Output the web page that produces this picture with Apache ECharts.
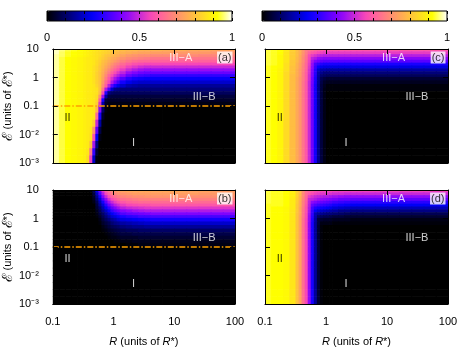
<!DOCTYPE html>
<html>
<head>
<meta charset="utf-8">
<script src="https://cdn.jsdelivr.net/npm/echarts@6/dist/echarts.min.js"></script>
<style>
html, body { margin: 0; padding: 0; background: #fff; }
#main { width: 463px; height: 354px; }
</style>
</head>
<body>
<div id="main"></div>
<script>
// bin edges of the sampled maps, in log10 R and log10 E (E from bottom to top)
var rEdges = [-1.0,-0.9,-0.8,-0.7,-0.6,-0.5,-0.45,-0.4,-0.35,-0.3,-0.25,-0.2,-0.15,-0.1,-0.05,0,0.05,0.1,0.2,0.3,0.4,0.5,0.6,0.8,1.0,1.2,1.4,1.6,1.8,2.0];
var eEdges = [-3,-2.75,-2.5,-2.25,-2,-1.75,-1.5,-1.25,-1,-0.875,-0.75,-0.625,-0.5,-0.375,-0.25,-0.125,0,0.1,0.2,0.3,0.4,0.5,0.6,0.7,0.8,0.9,1.0];

// map values x100, one row per E bin, top row first
var mapA = [
  [98,96,94,93,92,91,90,89,88,87,86,85,84,83,82,81,80,79,78,78,77,77,77,76,76,75,75,74,74],
  [98,95,93,92,91,90,89,88,87,86,85,84,83,82,80,79,78,77,76,75,74,74,73,73,72,72,72,71,71],
  [97,95,93,92,91,90,89,88,87,86,85,83,81,80,78,77,76,74,72,71,70,70,69,69,69,69,68,68,68],
  [97,94,92,91,90,89,88,88,87,86,84,82,80,78,76,75,73,71,69,68,67,66,65,65,65,65,65,65,65],
  [97,94,92,91,90,89,88,88,87,85,83,80,78,76,74,72,70,67,65,63,62,62,61,61,61,61,61,61,61],
  [97,94,92,91,90,89,88,88,87,85,82,79,77,74,71,68,66,63,60,58,57,56,56,56,56,56,56,56,56],
  [97,94,92,91,90,89,88,88,86,84,81,78,75,72,68,65,62,59,55,53,51,50,50,50,50,50,50,50,50],
  [97,94,92,91,90,89,88,88,86,84,81,77,73,69,65,61,58,54,50,47,45,44,44,44,44,44,44,44,44],
  [97,94,92,91,90,89,88,88,86,83,80,76,71,66,61,57,53,49,44,41,39,38,38,38,38,38,38,38,38],
  [97,94,92,91,90,89,88,88,86,83,80,75,69,62,57,52,48,44,38,35,33,32,31,31,31,31,31,31,31],
  [97,94,92,91,90,89,88,88,86,83,80,74,66,59,52,46,41,35,30,27,26,25,25,25,25,25,25,25,25],
  [97,94,92,91,90,89,88,88,86,83,80,72,63,56,47,40,33,27,23,21,20,20,20,20,20,20,20,20,20],
  [97,94,92,91,90,89,88,88,87,84,80,70,60,48,36,28,23,20,17,16,15,15,15,15,15,15,15,15,15],
  [97,94,92,91,90,89,88,88,87,86,80,65,47,34,20,14,13,12,12,12,12,12,12,12,12,12,12,12,12],
  [97,94,92,91,90,89,88,88,87,86,78,57,30,13,10,9,9,9,9,9,9,9,9,9,9,9,9,9,9],
  [97,94,92,91,90,89,88,88,87,85,70,45,16,7,6,6,6,6,6,6,6,6,6,6,6,6,6,6,6],
  [97,94,92,91,90,89,88,88,87,84,60,28,6,4,4,4,4,4,4,4,4,4,4,4,4,4,4,4,4],
  [97,94,92,91,90,89,88,88,87,82,52,17,4,2,2,2,2,2,2,2,2,2,2,2,2,2,2,2,2],
  [97,94,92,91,90,89,88,88,87,77,42,10,1,0,0,0,0,0,0,0,0,0,0,0,0,0,0,0,0],
  [97,94,92,91,90,89,88,88,87,63,28,4,0,0,0,0,0,0,0,0,0,0,0,0,0,0,0,0,0],
  [97,94,92,91,90,89,88,88,83,50,16,1,0,0,0,0,0,0,0,0,0,0,0,0,0,0,0,0,0],
  [97,94,92,91,90,89,88,87,71,37,7,0,0,0,0,0,0,0,0,0,0,0,0,0,0,0,0,0,0],
  [97,94,92,91,90,89,88,86,58,24,2,0,0,0,0,0,0,0,0,0,0,0,0,0,0,0,0,0,0],
  [97,94,92,91,90,89,88,80,46,13,0,0,0,0,0,0,0,0,0,0,0,0,0,0,0,0,0,0,0],
  [97,94,92,91,90,89,87,66,32,5,0,0,0,0,0,0,0,0,0,0,0,0,0,0,0,0,0,0,0],
  [97,94,92,91,90,89,85,55,19,1,0,0,0,0,0,0,0,0,0,0,0,0,0,0,0,0,0,0,0]
];
var mapB = [
  [0,0,0,0,0,0,0,1,8,23,40,53,61,66,69,71,73,74,75,75,75,75,75,75,75,74,74,73,73],
  [0,0,0,0,0,0,0,0,6,18,34,47,56,62,66,68,70,71,72,73,73,73,73,73,73,73,72,72,72],
  [0,0,0,0,0,0,0,0,4,14,27,41,50,57,61,64,66,68,69,70,70,71,71,71,71,70,70,70,70],
  [0,0,0,0,0,0,0,0,3,11,21,34,43,51,56,59,62,64,65,66,67,67,67,67,67,67,67,67,67],
  [0,0,0,0,0,0,0,0,2,8,17,27,37,45,50,54,57,59,61,62,63,63,63,63,63,63,63,63,63],
  [0,0,0,0,0,0,0,0,0,6,14,21,30,38,44,48,51,54,56,57,58,58,59,59,59,59,59,59,59],
  [0,0,0,0,0,0,0,0,0,5,10,17,24,31,37,41,45,48,50,51,52,53,53,53,53,53,53,53,53],
  [0,0,0,0,0,0,0,0,0,3,8,14,19,25,31,35,38,41,43,45,46,47,47,47,47,47,47,47,47],
  [0,0,0,0,0,0,0,0,0,2,6,10,15,20,24,28,31,35,37,38,39,40,41,41,41,41,41,41,41],
  [0,0,0,0,0,0,0,0,0,1,4,8,12,16,20,22,25,28,30,31,33,33,34,34,34,34,34,34,34],
  [0,0,0,0,0,0,0,0,0,0,2,6,9,12,15,17,20,22,23,24,25,26,27,27,27,27,27,27,27],
  [0,0,0,0,0,0,0,0,0,0,1,4,6,8,11,13,14,16,17,18,19,20,20,20,20,20,20,20,20],
  [0,0,0,0,0,0,0,0,0,0,0,2,4,6,8,9,10,12,13,14,14,15,15,15,15,15,15,15,15],
  [0,0,0,0,0,0,0,0,0,0,0,1,2,4,5,6,7,8,9,9,10,10,10,10,10,10,10,10,10],
  [0,0,0,0,0,0,0,0,0,0,0,0,1,2,3,4,5,6,6,7,7,7,7,7,7,7,7,7,7],
  [0,0,0,0,0,0,0,0,0,0,0,0,0,1,2,2,3,4,4,4,5,5,5,5,5,5,5,5,5],
  [0,0,0,0,0,0,0,0,0,0,0,0,0,0,0,1,1,2,2,3,3,3,3,3,3,3,3,3,3],
  [0,0,0,0,0,0,0,0,0,0,0,0,0,0,0,0,0,0,1,1,2,2,2,2,2,2,2,2,2],
  [0,0,0,0,0,0,0,0,0,0,0,0,0,0,0,0,0,0,0,0,0,0,0,0,0,0,0,0,0],
  [0,0,0,0,0,0,0,0,0,0,0,0,0,0,0,0,0,0,0,0,0,0,0,0,0,0,0,0,0],
  [0,0,0,0,0,0,0,0,0,0,0,0,0,0,0,0,0,0,0,0,0,0,0,0,0,0,0,0,0],
  [0,0,0,0,0,0,0,0,0,0,0,0,0,0,0,0,0,0,0,0,0,0,0,0,0,0,0,0,0],
  [0,0,0,0,0,0,0,0,0,0,0,0,0,0,0,0,0,0,0,0,0,0,0,0,0,0,0,0,0],
  [0,0,0,0,0,0,0,0,0,0,0,0,0,0,0,0,0,0,0,0,0,0,0,0,0,0,0,0,0],
  [0,0,0,0,0,0,0,0,0,0,0,0,0,0,0,0,0,0,0,0,0,0,0,0,0,0,0,0,0],
  [0,0,0,0,0,0,0,0,0,0,0,0,0,0,0,0,0,0,0,0,0,0,0,0,0,0,0,0,0]
];
var mapC = [
  [94,93,92,88,83,79,76,71,66,65,64,62,61,60,59,59,59,59,59,59,59,59,59,59,59,59,59,59,59],
  [94,93,92,87,82,79,76,71,66,61,59,58,56,55,54,54,54,54,54,54,54,54,54,54,54,54,54,54,54],
  [94,93,91,87,82,79,75,70,65,57,54,52,50,49,48,48,48,48,48,48,48,48,48,48,48,48,48,48,48],
  [94,93,91,87,82,78,75,69,64,56,49,47,44,43,42,42,42,42,42,42,42,42,42,42,42,42,42,42,42],
  [94,93,91,87,81,78,74,69,63,55,46,41,39,37,36,36,36,36,36,36,36,36,36,36,36,36,36,36,36],
  [94,93,91,86,81,77,73,68,62,54,44,34,31,29,28,28,28,28,28,28,28,28,28,28,28,28,28,28,28],
  [93,92,91,86,80,77,73,67,62,53,43,32,25,23,22,22,22,22,22,22,22,22,22,22,22,22,22,22,22],
  [93,92,90,86,80,76,72,67,61,52,42,30,20,17,17,16,16,16,16,16,16,16,16,16,16,16,16,16,16],
  [93,92,90,85,80,76,72,66,60,52,41,30,17,14,12,12,12,12,12,12,12,12,12,12,12,12,12,12,12],
  [93,92,90,85,79,76,72,66,60,51,41,29,16,11,10,9,9,9,9,9,9,9,9,9,9,9,9,9,9],
  [93,92,90,85,79,75,71,66,60,51,40,28,15,8,6,5,5,5,5,5,5,5,5,5,5,5,5,5,5],
  [93,92,90,85,79,75,71,65,59,50,40,28,15,7,4,3,3,3,3,3,3,3,3,3,3,3,3,3,3],
  [93,92,90,85,79,75,71,65,59,50,39,27,14,6,3,1,1,1,1,1,1,1,1,1,1,1,1,1,1],
  [93,92,90,85,79,75,71,65,59,50,39,27,14,6,2,1,1,1,1,1,1,1,1,1,1,1,1,1,1],
  [93,92,90,85,79,75,71,65,59,50,39,27,14,6,2,0,0,0,0,0,0,0,0,0,0,0,0,0,0],
  [93,92,90,85,79,75,71,65,59,50,39,27,14,6,2,0,0,0,0,0,0,0,0,0,0,0,0,0,0],
  [93,92,90,85,79,75,71,65,59,50,39,27,14,6,2,0,0,0,0,0,0,0,0,0,0,0,0,0,0],
  [93,92,90,85,79,75,71,65,59,50,39,27,14,6,2,0,0,0,0,0,0,0,0,0,0,0,0,0,0],
  [93,92,90,85,79,75,71,65,59,50,39,27,14,6,2,0,0,0,0,0,0,0,0,0,0,0,0,0,0],
  [93,92,90,85,79,75,71,65,59,50,39,27,14,6,2,0,0,0,0,0,0,0,0,0,0,0,0,0,0],
  [93,92,90,85,79,75,71,65,59,50,39,27,14,6,2,0,0,0,0,0,0,0,0,0,0,0,0,0,0],
  [93,92,90,85,79,75,71,65,59,50,39,27,14,6,2,0,0,0,0,0,0,0,0,0,0,0,0,0,0],
  [93,92,90,85,79,75,71,65,59,50,39,27,14,6,2,0,0,0,0,0,0,0,0,0,0,0,0,0,0],
  [93,92,90,85,79,75,71,65,59,50,39,27,14,6,2,0,0,0,0,0,0,0,0,0,0,0,0,0,0],
  [93,92,90,85,79,75,71,65,59,50,39,27,14,6,2,0,0,0,0,0,0,0,0,0,0,0,0,0,0],
  [93,92,90,85,79,75,71,65,59,50,39,27,14,6,2,0,0,0,0,0,0,0,0,0,0,0,0,0,0]
];
var mapD = [
  [94,93,93,92,89,83,78,70,63,61,60,58,57,56,56,56,56,55,55,55,55,55,55,55,55,55,55,55,55],
  [94,93,93,92,89,83,78,69,63,59,57,55,54,53,53,52,52,51,51,50,50,50,50,50,50,50,50,50,50],
  [94,93,93,92,89,83,77,69,62,54,52,50,49,48,47,47,46,45,44,43,43,43,43,43,43,43,43,43,43],
  [94,93,93,92,88,82,77,68,61,50,49,47,45,44,43,42,41,40,38,38,37,37,37,37,37,37,37,37,37],
  [94,93,93,92,88,82,76,67,60,49,43,41,39,38,37,36,35,33,32,31,30,30,30,30,30,30,30,30,30],
  [93,93,93,92,88,81,76,67,59,48,38,35,33,32,31,30,29,27,26,25,24,24,24,24,24,24,24,24,24],
  [93,92,92,91,88,81,75,66,58,47,34,29,27,26,25,24,23,21,20,19,18,18,18,18,18,18,18,18,18],
  [93,92,92,91,87,81,75,65,58,46,32,24,21,20,19,18,17,16,14,14,13,13,13,13,13,13,13,13,13],
  [93,92,92,91,87,80,75,65,57,45,31,18,15,14,13,12,12,11,10,9,8,8,8,8,8,8,8,8,8],
  [93,92,92,91,87,80,74,65,57,44,30,17,10,9,8,8,7,6,6,5,5,5,5,5,5,5,5,5,5],
  [93,92,92,91,87,80,74,64,56,44,29,16,6,5,4,4,4,3,3,3,2,2,2,2,2,2,2,2,2],
  [93,92,92,91,87,80,74,64,56,43,28,15,6,2,2,2,2,1,1,1,1,1,1,1,1,1,1,1,1],
  [93,92,92,91,87,80,74,64,56,43,28,15,5,1,0,0,0,0,0,0,0,0,0,0,0,0,0,0,0],
  [93,92,92,91,87,80,74,64,56,43,28,15,5,1,0,0,0,0,0,0,0,0,0,0,0,0,0,0,0],
  [93,92,92,91,87,80,74,64,56,43,28,15,5,1,0,0,0,0,0,0,0,0,0,0,0,0,0,0,0],
  [93,92,92,91,87,80,74,64,56,43,28,15,5,1,0,0,0,0,0,0,0,0,0,0,0,0,0,0,0],
  [93,92,92,91,87,80,74,64,56,43,28,15,5,1,0,0,0,0,0,0,0,0,0,0,0,0,0,0,0],
  [93,92,92,91,87,80,74,64,56,43,28,15,5,1,0,0,0,0,0,0,0,0,0,0,0,0,0,0,0],
  [93,92,92,91,87,80,74,64,56,43,28,15,5,1,0,0,0,0,0,0,0,0,0,0,0,0,0,0,0],
  [93,92,92,91,87,80,74,64,56,43,28,15,5,1,0,0,0,0,0,0,0,0,0,0,0,0,0,0,0],
  [93,92,92,91,87,80,74,64,56,43,28,15,5,1,0,0,0,0,0,0,0,0,0,0,0,0,0,0,0],
  [93,92,92,91,87,80,74,64,56,43,28,15,5,1,0,0,0,0,0,0,0,0,0,0,0,0,0,0,0],
  [93,92,92,91,87,80,74,64,56,43,28,15,5,1,0,0,0,0,0,0,0,0,0,0,0,0,0,0,0],
  [93,92,92,91,87,80,74,64,56,43,28,15,5,1,0,0,0,0,0,0,0,0,0,0,0,0,0,0,0],
  [93,92,92,91,87,80,74,64,56,43,28,15,5,1,0,0,0,0,0,0,0,0,0,0,0,0,0,0,0],
  [93,92,92,91,87,80,74,64,56,43,28,15,5,1,0,0,0,0,0,0,0,0,0,0,0,0,0,0,0]
];

var panelTags = ['(a)', '(b)', '(c)', '(d)'];
var regionNames = ['III\u2212A', 'III\u2212B', 'II', 'I'];
var cutE = 0.1;            // dash-dot line in (a) and (b)
var barLabels = [0, 0.5, 1];

// gnuplot rgbformulae 30,31,32
var palette = ['#000000','#000029','#000052','#00007a','#0000a3','#0000cc','#0000f5','#1800ff','#3800ff','#5800ff','#7800ff','#970af5','#b71fe0','#d733cc','#f747b8','#ff5ca3','#ff708f','#ff857a','#ff9966','#ffad52','#ffc23d','#ffd629','#ffeb14','#ffff00','#ffff80','#ffffff'];

[mapA, mapB, mapC, mapD].forEach(function (m, k) {
	if (m.length !== eEdges.length - 1) throw new Error('map ' + k + ' rows ' + m.length);
	m.forEach(function (r, i) {
		if (r.length !== rEdges.length - 1) throw new Error('map ' + k + ' row ' + i + ' len ' + r.length);
	});
});

var font = '"Liberation Sans", Arial, sans-serif';
var myChart = echarts.init(document.getElementById('main'));

// layout of the four maps
var panels = [
	{ map: mapA, left: 50, top: 49, width: 185, height: 114, xLab: false, yLab: true, line: true, iiColor: '#000' },
	{ map: mapB, left: 50, top: 190, width: 185, height: 114, xLab: true, yLab: true, line: true, iiColor: '#fff' },
	{ map: mapC, left: 265, top: 49, width: 183, height: 114, xLab: false, yLab: false, line: false, iiColor: '#000' },
	{ map: mapD, left: 265, top: 190, width: 183, height: 114, xLab: true, yLab: false, line: false, iiColor: '#000' }
];
// where the region names sit, in data units (R, E)
var regionPos = [[12.8, 4.7], [31, 0.2], [0.175, 0.037], [2.13, 0.005]];

var supDigits = { '-2': '\u207b\u00b2', '-3': '\u207b\u00b3' };
function eLabel(v) {
	var e = Math.round(Math.log10(v));
	return e >= -1 ? String(+Math.pow(10, e).toFixed(1)) : '10' + supDigits[e];
}
function rLabel(v) {
	var e = Math.round(Math.log10(v));
	return String(+Math.pow(10, e).toFixed(1));
}

function logAxis(gi, pos, min, max, showLabel, fmt, margin) {
	return {
		type: 'log', logBase: 10, gridIndex: gi, position: pos, min: min, max: max, z: 10,
		axisLine: { show: true, onZero: false, lineStyle: { color: '#000', width: 1 } },
		axisTick: { show: true, inside: true, length: 5, lineStyle: { color: '#000' } },
		minorTick: { show: false },
		axisLabel: { show: showLabel, formatter: fmt, color: '#000', fontSize: 11, fontFamily: font, margin: margin },
		splitLine: { show: false }
	};
}

// one cell of a map, drawn between its bin edges through the log axes
function renderCell(params, api) {
	var i = api.value(3), j = api.value(4);
	var p0 = api.coord([Math.pow(10, rEdges[i]), Math.pow(10, eEdges[j])]);
	var p1 = api.coord([Math.pow(10, rEdges[i + 1]), Math.pow(10, eEdges[j + 1])]);
	return {
		type: 'rect',
		shape: { x: p0[0], y: p1[1] - 0.6, width: p1[0] - p0[0] + 0.8, height: p0[1] - p1[1] + 0.6 },
		style: { fill: api.visual('color') }
	};
}

var grids = [], xAxes = [], yAxes = [], heatSeries = [], markSeries = [];

panels.forEach(function (p, k) {
	var g = grids.length;
	grids.push({ left: p.left, top: p.top, width: p.width, height: p.height });
	var xi = xAxes.length;
	var xb = logAxis(g, 'bottom', 0.1, 100, p.xLab, rLabel, 12);
	if (p.xLab) {
		xb.name = '{i|R} (units of {i|R}*)';
		xb.nameLocation = 'middle';
		xb.nameGap = 32;
		xb.nameTextStyle = { color: '#000', fontSize: 11, fontFamily: font, rich: { i: { fontStyle: 'italic', fontSize: 11, fontFamily: font } } };
	}
	xAxes.push(xb);
	xAxes.push(logAxis(g, 'top', 0.1, 100, false, null, 8));
	var yi = yAxes.length;
	var yl = logAxis(g, 'left', 0.001, 10, p.yLab, eLabel, 14);
	if (p.yLab) {
		yl.name = '{e|\u2130} (units of {e|\u2130}*)';
		yl.nameLocation = 'middle';
		yl.nameRotate = 90;
		yl.nameGap = 31;
		yl.nameTextStyle = { color: '#000', fontSize: 11, fontFamily: font, rich: { e: { fontSize: 14, fontFamily: font } } };
	}
	yAxes.push(yl);
	yAxes.push(logAxis(g, 'right', 0.001, 10, false, null, 8));

	var cells = [];
	var rows = p.map.length;
	p.map.forEach(function (row, r) {
		var j = rows - 1 - r;
		var ec = Math.pow(10, (eEdges[j] + eEdges[j + 1]) / 2);
		row.forEach(function (v, i) {
			var rc = Math.pow(10, (rEdges[i] + rEdges[i + 1]) / 2);
			cells.push([rc, ec, v / 100, i, j]);
		});
	});
	heatSeries.push({
		type: 'custom', xAxisIndex: xi, yAxisIndex: yi, data: cells, renderItem: renderCell,
		encode: { x: 0, y: 1 }, clip: true, silent: true, z: 2
	});

	var labels = regionNames.map(function (name, n) {
		return {
			value: regionPos[n],
			label: { show: true, formatter: name, position: 'inside', fontSize: 11, fontFamily: font,
				color: n === 2 ? p.iiColor : '#fff' }
		};
	});
	labels.push({
		value: [100, 10],
		label: { show: true, formatter: panelTags[k], position: [-2, 3], align: 'right', verticalAlign: 'top',
			backgroundColor: '#fff', padding: [1, 1, 0, 1], color: '#000', fontSize: 11, fontFamily: font }
	});
	var s = {
		type: 'scatter', xAxisIndex: xi, yAxisIndex: yi, symbolSize: 1, clip: false, silent: true,
		itemStyle: { color: 'rgba(0,0,0,0)' }, data: labels, z: 5
	};
	if (p.line) {
		s.markLine = {
			silent: true, symbol: ['none', 'none'], label: { show: false },
			lineStyle: { color: '#ffa000', width: 1.6, type: [6, 2, 1.5, 2] },
			data: [{ yAxis: cutE }]
		};
	}
	markSeries.push(s);
});

// colour bars: frame and ticks drawn by a value axis over each visualMap bar
var bars = [{ left: 47, series: [0, 1] }, { left: 262, series: [2, 3] }];
var visualMaps = [];
bars.forEach(function (b) {
	var g = grids.length;
	grids.push({ left: b.left, top: 11, width: 185, height: 10, show: true, borderColor: '#000', borderWidth: 1, z: 10 });
	var tick = { show: true, inside: true, length: 3, lineStyle: { color: '#000' } };
	xAxes.push({
		type: 'value', gridIndex: g, position: 'bottom', min: 0, max: 1, interval: 0.1, z: 10,
		axisLine: { show: false }, axisTick: tick, splitLine: { show: false },
		axisLabel: {
			color: '#000', fontSize: 11, fontFamily: font, margin: 11,
			formatter: function (v) {
				return barLabels.some(function (t) { return Math.abs(t - v) < 1e-6; }) ? String(+v.toFixed(1)) : '';
			}
		}
	});
	xAxes.push({
		type: 'value', gridIndex: g, position: 'top', min: 0, max: 1, interval: 0.1, z: 10,
		axisLine: { show: false }, axisTick: tick, axisLabel: { show: false }, splitLine: { show: false }
	});
	yAxes.push({ type: 'value', gridIndex: g, show: false });
	visualMaps.push({
		type: 'continuous', min: 0, max: 1, orient: 'horizontal', left: b.left, top: 11,
		itemWidth: 10, itemHeight: 185, calculable: false, hoverLink: false, padding: 0,
		dimension: 2, seriesIndex: b.series, inRange: { color: palette }
	});
});

var option = {
	animation: false,
	textStyle: { fontFamily: font },
	grid: grids,
	xAxis: xAxes,
	yAxis: yAxes,
	visualMap: visualMaps,
	series: heatSeries.concat(markSeries)
};

myChart.setOption(option);
</script>
</body>
</html>
